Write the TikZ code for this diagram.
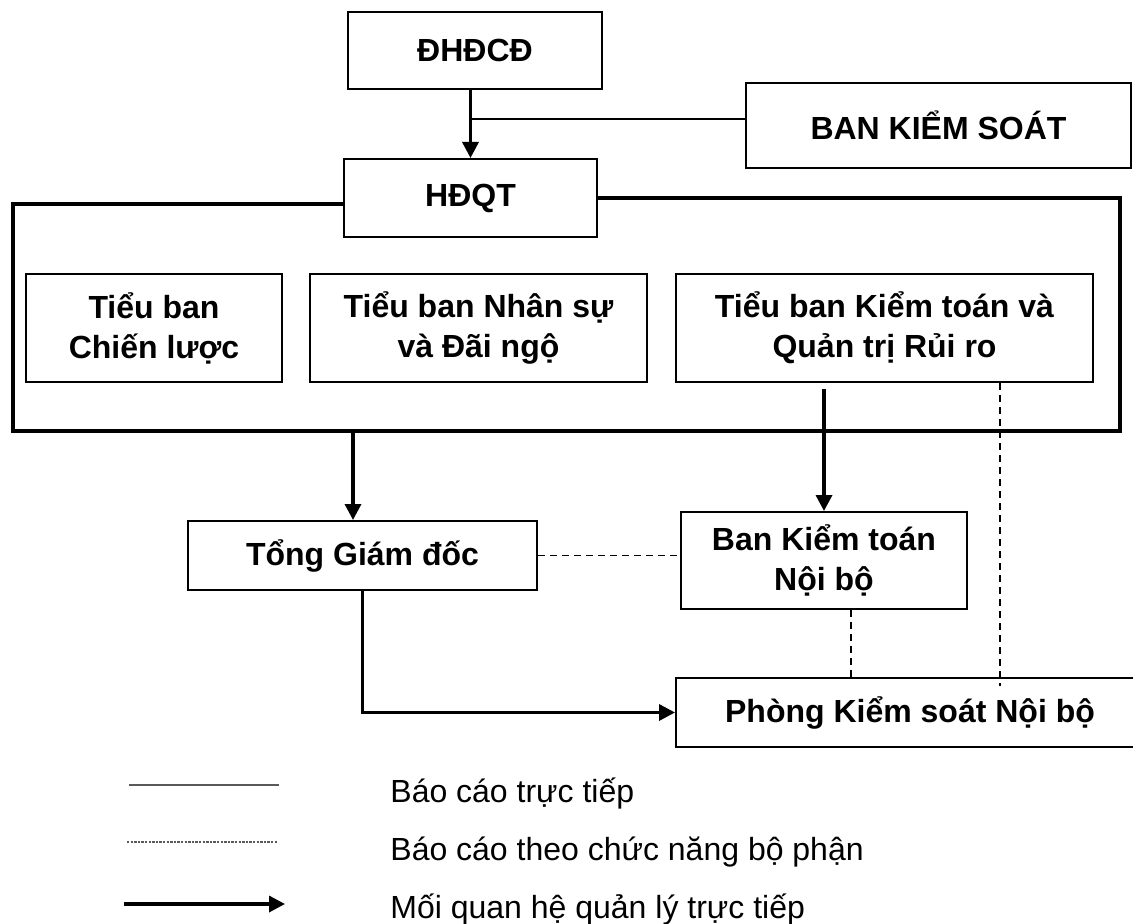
\documentclass[tikz,border=0pt]{standalone}
\usepackage{fontspec}
\setmainfont{Liberation Sans}
\usetikzlibrary{arrows.meta}
\definecolor{Black}{RGB}{0,0,0}
\definecolor{Grey}{RGB}{90,90,90}

\begin{document}
\begin{tikzpicture}[x=0.5pt, y=-0.5pt,
		box/.style={draw=Black, line width=1pt, inner sep=0pt, align=center, font=\fontsize{16}{20}\selectfont\bfseries},
		frame/.style={draw=Black, line width=1.7pt},
		mgmt/.style={draw=Black, line width=1.7pt, -{Triangle[length=8pt, width=8pt]}},
		report/.style={draw=Black, line width=0.8pt},
		func/.style={draw=Black, line width=0.7pt, dash pattern=on 3.5pt off 2.5pt},
		legend/.style={anchor=base west, inner sep=0pt, font=\fontsize{16}{20}\selectfont}]
		
		\useasboundingbox (0,0) rectangle (1133,924);
		\clip (0,0) rectangle (1133,924);
		
		% Boxes
		\node[box, minimum width=127pt, minimum height=38.5pt] (dhdcd) at (475,50.5) {ĐHĐCĐ};
		\node[box, minimum width=192.5pt, minimum height=42.5pt] (bks) at (938.5,125.5) {BAN KIỂM SOÁT};
		\node[box, minimum width=126.5pt, minimum height=39pt] (hdqt) at (470.5,198) {HĐQT};
		
		\node[box, minimum width=128pt, minimum height=54pt] (tbcl) at (154,328) {Tiểu ban\\Chiến lược};
		\node[box, minimum width=168.5pt, minimum height=54pt] (tbns) at (478.5,328) {Tiểu ban Nhân sự\\và Đãi ngộ};
		\node[box, minimum width=208.5pt, minimum height=54pt] (tbkt) at (884.5,328) {Tiểu ban Kiểm toán và\\Quản trị Rủi ro};
		
		\node[box, minimum width=174.5pt, minimum height=34.5pt] (tgd) at (362.5,555.5) {Tổng Giám đốc};
		\node[box, minimum width=143pt, minimum height=48.5pt] (bktnb) at (824,560.5) {Ban Kiểm toán\\Nội bộ};
		\node[box, minimum width=234pt, minimum height=34.5pt] (pksnb) at (910,712.5) {Phòng Kiểm soát Nội bộ};
		
		% Frame of HDQT
		\coordinate (ftl) at (13,204);
		\coordinate (ftr) at (1120,198);
		\coordinate (fbl) at (13,431);
		\coordinate (fbr) at (1120,431);
		\draw[frame] (hdqt.west |- ftl) -- (ftl) -- (fbl) -- (fbr) -- (ftr) -- (hdqt.east |- ftr);
		
		% Management
		\draw[mgmt] (dhdcd.south -| hdqt.north) -- (hdqt.north);
		\draw[mgmt] ([xshift=-4.75pt]tgd.north |- fbl) -- ([xshift=-4.75pt]tgd.north);
		\draw[mgmt] ([yshift=-3pt]tbkt.south -| bktnb.north) -- (bktnb.north);
		\draw[mgmt] (tgd.south) |- (pksnb.west);
		
		% Reporting
		\draw[report] ([yshift=3.25pt]bks.west) -- ([yshift=3.25pt]bks.west -| hdqt.north);
		
		\coordinate (tap) at (1000,383);
		\draw[func] (tap) -- ([yshift=-4.5pt]tap |- pksnb.north);
		\draw[func] (tgd.east) -- (tgd.east -| bktnb.west);
		\draw[func] ([xshift=13.5pt]bktnb.south) -- ([xshift=13.5pt]bktnb.south |- pksnb.north);
		
		% Legend
		\coordinate (la1) at (129,785);
		\coordinate (lb1) at (279,785);
		\coordinate (la2) at (127,842);
		\coordinate (lb2) at (277,842);
		\coordinate (la3) at (124,904);
		\coordinate (lb3) at (285,904);
		\draw[draw=Grey, line width=0.7pt] (la1) -- (lb1);
		\draw[draw=Grey, line width=0.6pt, dash pattern=on 1.2pt off 0.6pt] (la2) -- (lb2);
		\draw[mgmt] (la3) -- (lb3);
		
		\node[legend] (lt1) at (390,802) {Báo cáo trực tiếp};
		\node[legend] (lt2) at (390,860) {Báo cáo theo chức năng bộ phận};
		\node[legend] (lt3) at (390,918) {Mối quan hệ quản lý trực tiếp};
		
	\end{tikzpicture}
\end{document}
